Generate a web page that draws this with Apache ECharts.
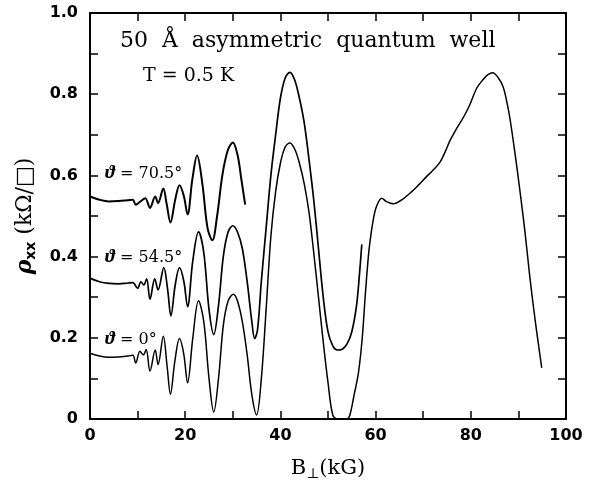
<!DOCTYPE html>
<html>
<head>
<meta charset="utf-8">
<script src="https://cdn.jsdelivr.net/npm/echarts@6/dist/echarts.min.js"></script>
<style>
  html, body { margin: 0; padding: 0; background: #fff; }
  #chart { width: 589px; height: 486px; }
</style>
</head>
<body>
<div id="chart"></div>
<script>
// B (kG) and rho_xx (kOhm/sq), one pair of arrays per angle
const b0   = [0,2,4,6,8,9,9.6,10.5,11.2,11.8,12.6,13.7,14.3,15.4,16.2,16.9,17.8,18.8,19.7,20.5,21.6,22.8,23.9,25,26,27,28,29,30.1,31,32,33,34,35,36,37,38,39,40,41,42,43,44,45,46,47,48,49,50,51,52,53,54,54.6,55.5,56.4,57.2,57.8,58.4,58.8,59.5,60.2,61.3,62.2,63.7,65.5,67.6,69,70.7,72,73.5,74.5,75.6,77,78.4,79.8,81.2,82.5,83.6,84.6,85.8,86.8,87.5,88.2,89.3,90.3,91.4,92.4,93.5,94.9];
const rho0 = [0.162,0.155,0.152,0.153,0.155,0.157,0.138,0.167,0.158,0.171,0.118,0.17,0.134,0.204,0.13,0.061,0.14,0.198,0.16,0.089,0.2,0.291,0.24,0.1,0.017,0.1,0.23,0.29,0.307,0.29,0.24,0.16,0.06,0.01,0.1,0.27,0.45,0.56,0.63,0.67,0.68,0.665,0.63,0.58,0.51,0.41,0.3,0.19,0.09,0.01,0.0,0.0,0.0,0.01,0.06,0.114,0.2,0.3,0.39,0.435,0.49,0.524,0.544,0.536,0.53,0.54,0.56,0.576,0.597,0.612,0.632,0.655,0.685,0.715,0.742,0.774,0.814,0.835,0.848,0.853,0.84,0.818,0.785,0.742,0.653,0.564,0.459,0.35,0.245,0.126];

const b54   = [0,2,4,6,8,9,10,10.7,11.3,11.9,12.6,13.6,14.3,15.5,16.3,17,17.9,18.8,19.7,20.5,21.6,22.8,23.9,25,26,27,28,29,30,31,32,33,34,34.6,35.2,36,37,38,39,40,41,42,43,44,45,46,47,48,49,50,51,52,53,54,55,56,56.6,57.1];
const rho54 = [0.347,0.338,0.334,0.333,0.335,0.336,0.322,0.338,0.33,0.345,0.295,0.345,0.318,0.373,0.32,0.254,0.33,0.373,0.34,0.277,0.39,0.461,0.41,0.27,0.208,0.28,0.4,0.46,0.476,0.46,0.42,0.34,0.24,0.198,0.22,0.34,0.47,0.6,0.7,0.79,0.84,0.854,0.835,0.79,0.73,0.64,0.54,0.42,0.3,0.215,0.18,0.17,0.172,0.185,0.215,0.28,0.355,0.43];

const b70   = [0,2,4,6,8,9,9.6,10.5,11.6,12.6,13.7,14.3,15.4,16.1,16.9,17.9,18.8,19.7,20.5,21.5,22.5,23.6,24.7,25.7,26.7,27.8,28.9,30,31,31.8,32.6];
const rho70 = [0.548,0.54,0.536,0.537,0.539,0.54,0.528,0.535,0.544,0.52,0.548,0.532,0.568,0.53,0.484,0.54,0.576,0.55,0.504,0.59,0.649,0.58,0.47,0.44,0.5,0.6,0.66,0.681,0.65,0.59,0.528];

const xTicks = [0,20,40,60,80,100];
const yTicks = ['0','0.2','0.4','0.6','0.8','1.0'];

const pairs = (xs, ys) => xs.map((x, i) => [x, ys[i]]);

const tickFont = { fontFamily: 'DejaVu Sans', fontWeight: 'bold', fontSize: 16, color: '#000' };
const frame = { show: true, onZero: false, lineStyle: { color: '#000', width: 2 } };
const ticks = { show: true, inside: true, length: 8, lineStyle: { color: '#000', width: 1.5 } };

// labels: only the theta glyph is italic
const angleLabel = (txt, top) => ({
  type: 'text', left: 105, top: top,
  style: {
    text: '{t|ϑ} = ' + txt + '°',
    fontFamily: 'DejaVu Serif', fontSize: 16, fill: '#000',
    rich: { t: { fontFamily: 'Liberation Serif', fontStyle: 'italic', fontWeight: 'bold', fontSize: 19, fill: '#000' } }
  }
});

const myChart = echarts.init(document.getElementById('chart'));
myChart.setOption({
  animation: false,
  backgroundColor: '#fff',
  grid: { left: 90, top: 13, width: 476, height: 414 },
  xAxis: [
    {
      type: 'value', min: 0, max: 100, interval: 10, position: 'bottom',
      axisLine: frame, axisTick: ticks, splitLine: { show: false },
      axisLabel: Object.assign({ margin: 9, formatter: v => (xTicks.indexOf(v) >= 0 ? String(v) : '') }, tickFont),
      name: 'B{sub|⊥}(kG)', nameLocation: 'middle', nameGap: 38,
      nameTextStyle: {
        fontFamily: 'DejaVu Serif', fontSize: 21, color: '#000',
        rich: { sub: { fontFamily: 'DejaVu Serif', fontSize: 14, color: '#000', padding: [10, 0, 0, 0] } }
      }
    },
    {
      type: 'value', min: 0, max: 100, interval: 10, position: 'top',
      axisLine: frame, axisTick: ticks, axisLabel: { show: false }, splitLine: { show: false }
    }
  ],
  yAxis: [
    {
      type: 'value', min: 0, max: 1, interval: 0.1, position: 'left',
      axisLine: frame, axisTick: ticks, splitLine: { show: false },
      axisLabel: Object.assign({ margin: 12, formatter: v => {
        const k = Math.round(v * 10);
        return k % 2 === 0 ? yTicks[k / 2] : '';
      } }, tickFont),
      name: '{r|ρ}{s|xx} (kΩ/□)', nameLocation: 'middle', nameGap: 52, nameRotate: 90,
      nameTextStyle: {
        fontFamily: 'DejaVu Serif', fontSize: 22, color: '#000',
        rich: {
          r: { fontFamily: 'DejaVu Serif', fontStyle: 'italic', fontWeight: 'bold', fontSize: 22, color: '#000' },
          s: { fontFamily: 'DejaVu Sans', fontWeight: 'bold', fontSize: 14, color: '#000', padding: [12, 0, 0, 0] }
        }
      }
    },
    {
      type: 'value', min: 0, max: 1, interval: 0.1, position: 'right',
      axisLine: frame, axisTick: ticks, axisLabel: { show: false }, splitLine: { show: false }
    }
  ],
  series: [
    { name: '0', type: 'line', data: pairs(b0, rho0), showSymbol: false, smooth: 0.35,
      lineStyle: { color: '#000', width: 1.5 } },
    { name: '54.5', type: 'line', data: pairs(b54, rho54), showSymbol: false, smooth: 0.35,
      lineStyle: { color: '#000', width: 1.7 } },
    { name: '70.5', type: 'line', data: pairs(b70, rho70), showSymbol: false, smooth: 0.35,
      lineStyle: { color: '#000', width: 2 } }
  ],
  graphic: [
    { type: 'text', left: 120, top: 30,
      style: { text: '50  Å  asymmetric  quantum  well', font: '22px "DejaVu Serif"', fill: '#000' } },
    { type: 'text', left: 143, top: 67,
      style: { text: 'T = 0.5 K', font: '19px "DejaVu Serif"', fill: '#000' } },
    angleLabel('70.5', 164),
    angleLabel('54.5', 248),
    angleLabel('0', 330)
  ]
});
</script>
</body>
</html>
